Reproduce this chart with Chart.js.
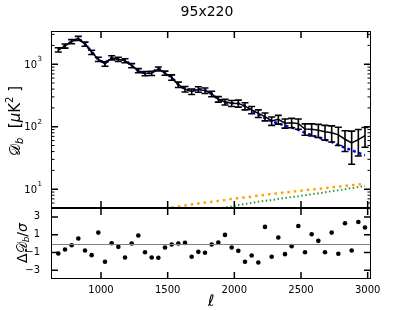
<!DOCTYPE html>
<html>
<head>
<meta charset="utf-8">
<script src="https://cdn.jsdelivr.net/npm/chart.js@4"></script>
<style>
body { margin: 0; background: #fff; }
#wrap { position: relative; width: 413px; height: 310px; }
canvas { position: absolute; left: 0; }
</style>
</head>
<body>
<div id="wrap">
  <canvas id="spec-chart" width="413" height="210" style="top:0;width:413px;height:210px"></canvas>
  <canvas id="res-chart" width="413" height="110" style="top:200px;width:413px;height:110px"></canvas>
</div>
<script>
// bin centres
const ells = [680, 730, 780, 830, 880, 930, 980, 1030, 1080, 1130, 1180, 1230, 1280, 1330, 1380, 1430,
  1480, 1530, 1580, 1630, 1680, 1730, 1780, 1830, 1880, 1930, 1980, 2030, 2080, 2130, 2180, 2230,
  2280, 2330, 2380, 2430, 2480, 2530, 2580, 2630, 2680, 2730, 2780, 2830, 2880, 2930, 2980];
// measured bandpowers and 1-sigma errors
const bandpower = [1700, 1960, 2300, 2600, 2100, 1550, 1200, 1010, 1270, 1200, 1140, 950, 790, 710, 715, 840,
  720, 615, 470, 400, 365, 395, 378, 335, 275, 248, 237, 236, 214, 186, 163, 145,
  124, 131, 114, 116, 112, 92, 91, 88, 83, 80, 74, 63, 55, 62, 72];
const bandErr = [130, 150, 170, 190, 160, 120, 95, 80, 95, 90, 85, 72, 60, 55, 55, 62,
  55, 60, 47, 40, 37, 40, 38, 34, 28, 26, 26, 30, 28, 25, 23, 21,
  19, 21, 19, 20, 21, 19, 20, 21, 22, 23, 24, 23, 30, 28, 25];
// best fit model (blue dashed)
const bestFit = [1720, 1990, 2310, 2560, 2130, 1590, 1170, 1060, 1270, 1210, 1170, 950, 770, 720, 740, 860,
  725, 615, 470, 400, 380, 400, 385, 335, 274, 243, 239, 236, 214, 180, 158, 137,
  122, 113, 104, 97, 89, 80, 73, 67, 62, 57, 51, 46, 42, 38, 35];
// normalised residuals
const resid = [-1.12, -0.67, -0.19, 0.56, -0.79, -1.31, 1.23, -2.06, 0.03, -0.38, -1.58, 0.0, 0.9, -0.98, -1.58, -1.6,
  -0.45, -0.11, 0.0, 0.07, -1.5, -0.94, -1.05, -0.11, 0.11, 0.97, -0.45, -0.83, -2.06, -1.35, -2.14, 1.87,
  -1.5, 0.67, -1.2, -0.3, 1.98, -0.98, 1.04, 0.3, -0.98, 1.23, -1.16, 2.28, -0.79, 2.43, 1.8];
// foreground terms
const fgEll = [1480, 1530, 1580, 1630, 1680, 1730, 1780, 1830, 1880, 1930, 1980, 2030, 2080, 2130, 2180, 2230,
  2280, 2330, 2380, 2430, 2480, 2530, 2580, 2630, 2680, 2730, 2780, 2830, 2880, 2930, 2980];
const fgOrange = [4.9, 5.1, 5.3, 5.5, 5.7, 5.9, 6.1, 6.3, 6.5, 6.7, 7.0, 7.2, 7.4, 7.6, 7.9, 8.1,
  8.4, 8.6, 8.9, 9.1, 9.4, 9.6, 9.9, 10.1, 10.4, 10.7, 11.0, 11.3, 11.6, 11.9, 12.3];
const fgGreen = [null, null, null, null, null, null, null, null, 4.9, 5.1, 5.3, 5.6, 5.8, 6.0, 6.3, 6.5,
  6.7, 7.0, 7.2, 7.5, 7.7, 8.0, 8.3, 8.6, 8.9, 9.3, 9.6, 10.0, 10.4, 10.8, 11.3];

const xTicks = [1000, 1500, 2000, 2500, 3000];
const specYTicks = [10, 100, 1000];
const specYExp = ['1', '2', '3'];
const specYMinor = [6, 7, 8, 9, 20, 30, 40, 50, 60, 70, 80, 90, 200, 300, 400, 500, 600, 700, 800, 900, 2000, 3000];
const resYTicks = [-3, -1, 1, 3];
const resYLabels = ['−3', '−1', '1', '3'];

const FONT = "'DejaVu Sans', sans-serif";
Chart.defaults.font.family = FONT;
Chart.defaults.color = '#000';
Chart.defaults.animation = false;

// no extra room for edge labels, keeps the panels where they belong
function noPad(s) {
  s.paddingTop = 0; s.paddingBottom = 0;
  s.paddingLeft = 0; s.paddingRight = 0;
}

//frame + inward ticks like matplotlib
const frameTicks = {
  id: 'frameTicks',
  afterDraw(chart, args, opts) {
    const { ctx, chartArea: a, scales } = chart;
    ctx.save();
    ctx.strokeStyle = '#000';
    ctx.lineWidth = 1.5;
    ctx.beginPath();
    opts.xTicks.forEach(v => {
      const px = scales.x.getPixelForValue(v);
      ctx.moveTo(px, a.top); ctx.lineTo(px, a.top + 7);
      ctx.moveTo(px, a.bottom); ctx.lineTo(px, a.bottom - 7);
    });
    opts.yTicks.forEach(v => {
      const py = scales.y.getPixelForValue(v);
      ctx.moveTo(a.left, py); ctx.lineTo(a.left + 7, py);
      ctx.moveTo(a.right, py); ctx.lineTo(a.right - 7, py);
    });
    ctx.stroke();
    ctx.lineWidth = 1;
    ctx.beginPath();
    (opts.yMinor || []).forEach(v => {
      const py = scales.y.getPixelForValue(v);
      ctx.moveTo(a.left, py); ctx.lineTo(a.left + 3.5, py);
      ctx.moveTo(a.right, py); ctx.lineTo(a.right - 3.5, py);
    });
    ctx.stroke();
    if (opts.zeroLine) {
      const py = Math.round(scales.y.getPixelForValue(0)) + 0.5;
      ctx.strokeStyle = '#808080';
      ctx.beginPath();
      ctx.moveTo(a.left, py); ctx.lineTo(a.right, py);
      ctx.stroke();
    }
    ctx.strokeStyle = '#000';
    ctx.lineWidth = 1;
    ctx.strokeRect(a.left + 0.5, a.top + 0.5, a.right - a.left - 1, a.bottom - a.top - 1);
    ctx.restore();
  }
};

const errorBars = {
  id: 'errorBars',
  afterDatasetsDraw(chart) {
    const { ctx, chartArea: a, scales: { x, y } } = chart;
    ctx.save();
    ctx.beginPath();
    ctx.rect(a.left, a.top, a.right - a.left, a.bottom - a.top);
    ctx.clip();
    ctx.strokeStyle = '#000';
    ctx.lineWidth = 1.6;
    ctx.beginPath();
    ells.forEach((l, i) => {
      const px = x.getPixelForValue(l);
      const hi = y.getPixelForValue(bandpower[i] + bandErr[i]);
      const lo = y.getPixelForValue(bandpower[i] - bandErr[i]);
      ctx.moveTo(px, hi); ctx.lineTo(px, lo);
      ctx.moveTo(px - 3.5, hi); ctx.lineTo(px + 3.5, hi);
      ctx.moveTo(px - 3.5, lo); ctx.lineTo(px + 3.5, lo);
    });
    ctx.stroke();
    ctx.restore();
  }
};

// draws a row of [text, size, dy, italic] pieces centred on 0
function drawPieces(ctx, pieces) {
  let total = 0;
  pieces.forEach(p => {
    ctx.font = (p[3] ? 'italic ' : '') + p[1] + 'px ' + FONT;
    total += ctx.measureText(p[0]).width;
  });
  let cx = -total / 2;
  pieces.forEach(p => {
    ctx.font = (p[3] ? 'italic ' : '') + p[1] + 'px ' + FONT;
    ctx.fillText(p[0], cx, p[2]);
    cx += ctx.measureText(p[0]).width;
  });
}

const specText = {
  id: 'specText',
  afterDraw(chart) {
    const ctx = chart.ctx;
    const y = chart.scales.y;
    ctx.save();
    ctx.fillStyle = '#000';
    ctx.textBaseline = 'middle';
    ctx.textAlign = 'center';
    ctx.font = '14px ' + FONT;
    ctx.fillText('95x220', 207, 12);
    // 10^n tick labels
    specYTicks.forEach((v, i) => {
      const py = y.getPixelForValue(v);
      ctx.textAlign = 'right';
      ctx.font = '10px ' + FONT;
      ctx.fillText('10', 37, py + 1);
      ctx.textAlign = 'left';
      ctx.font = '7px ' + FONT;
      ctx.fillText(specYExp[i], 37.5, py - 5);
    });
    ctx.textAlign = 'left';
    ctx.translate(16, 121);
    ctx.rotate(-Math.PI / 2);
    drawPieces(ctx, [['𝒟', 15, 0], ['b', 10, 4, true], ['  [', 15, 0], ['μ', 15, 0, true], ['K', 15, 0], ['2', 10, -6], [' ]', 15, 0]]);
    ctx.restore();
  }
};

const resText = {
  id: 'resText',
  afterDraw(chart) {
    const ctx = chart.ctx;
    ctx.save();
    ctx.fillStyle = '#000';
    ctx.textBaseline = 'middle';
    ctx.textAlign = 'left';
    ctx.save();
    ctx.translate(23, 43);
    ctx.rotate(-Math.PI / 2);
    drawPieces(ctx, [['Δ𝒟', 14, 0], ['b', 9, 4, true], ['/', 14, 0], ['σ', 14, 0, true]]);
    ctx.restore();
    ctx.translate(211, 102);
    drawPieces(ctx, [['ℓ', 16, 0, true]]);
    ctx.restore();
  }
};

//top panel - spectrum
const specCanvas = document.getElementById('spec-chart');
let specChart = new Chart(specCanvas, {
  type: 'line',
  data: {
    datasets: [{
      data: ells.map((l, i) => ({ x: l, y: bandpower[i] })),
      borderColor: '#000',
      borderWidth: 1.5,
      pointRadius: 0
    }, {
      data: ells.map((l, i) => ({ x: l, y: bestFit[i] })),
      borderColor: '#0000ff',
      borderWidth: 2.5,
      borderDash: [3, 3],
      pointRadius: 0
    }, {
      data: fgEll.map((l, i) => ({ x: l, y: fgOrange[i] })),
      borderColor: '#ffa500',
      borderWidth: 2.5,
      borderDash: [2.5, 4],
      pointRadius: 0
    }, {
      data: fgEll.map((l, i) => ({ x: l, y: fgGreen[i] })),
      borderColor: '#2e9a2e',
      borderWidth: 2,
      borderDash: [1.5, 2.5],
      pointRadius: 0
    }]
  },
  options: {
    responsive: false,
    maintainAspectRatio: false,
    layout: { padding: { left: 0, top: 31, right: 42, bottom: 2 } },
    scales: {
      x: { type: 'linear', min: 625, max: 3025, display: false },
      y: {
        type: 'logarithmic', min: 5, max: 3400,
        grid: { display: false },
        border: { display: false },
        afterBuildTicks: s => { s.ticks = specYTicks.map(v => ({ value: v })); },
        afterFit: s => { s.width = 51; noPad(s); },
        ticks: { display: false }
      }
    },
    plugins: {
      legend: { display: false },
      tooltip: { enabled: false },
      frameTicks: { xTicks: xTicks, yTicks: specYTicks, yMinor: specYMinor }
    }
  },
  plugins: [errorBars, frameTicks, specText]
});

//bottom panel - residuals
const resCanvas = document.getElementById('res-chart');
let resChart = new Chart(resCanvas, {
  type: 'scatter',
  data: {
    datasets: [{
      data: ells.map((l, i) => ({ x: l, y: resid[i] })),
      backgroundColor: '#000',
      borderWidth: 0,
      pointRadius: 2.3
    }]
  },
  options: {
    responsive: false,
    maintainAspectRatio: false,
    layout: { padding: { left: 0, top: 8, right: 42, bottom: 0 } },
    scales: {
      x: {
        type: 'linear', min: 625, max: 3025,
        grid: { display: false },
        border: { display: false },
        afterBuildTicks: s => { s.ticks = xTicks.map(v => ({ value: v })); },
        afterFit: s => { s.height = 31; noPad(s); },
        ticks: { autoSkip: false, maxRotation: 0, padding: -3, font: { size: 10 }, callback: v => String(v) }
      },
      y: {
        type: 'linear', min: -4, max: 4,
        grid: { display: false },
        border: { display: false },
        afterBuildTicks: s => { s.ticks = resYTicks.map(v => ({ value: v })); },
        afterFit: s => { s.width = 51; noPad(s); },
        ticks: {
          autoSkip: false,
          padding: 3,
          font: { size: 10 },
          callback: v => resYLabels[resYTicks.indexOf(v)]
        }
      }
    },
    plugins: {
      legend: { display: false },
      tooltip: { enabled: false },
      frameTicks: { xTicks: xTicks, yTicks: resYTicks, zeroLine: true }
    }
  },
  plugins: [frameTicks, resText]
});
</script>
</body>
</html>
